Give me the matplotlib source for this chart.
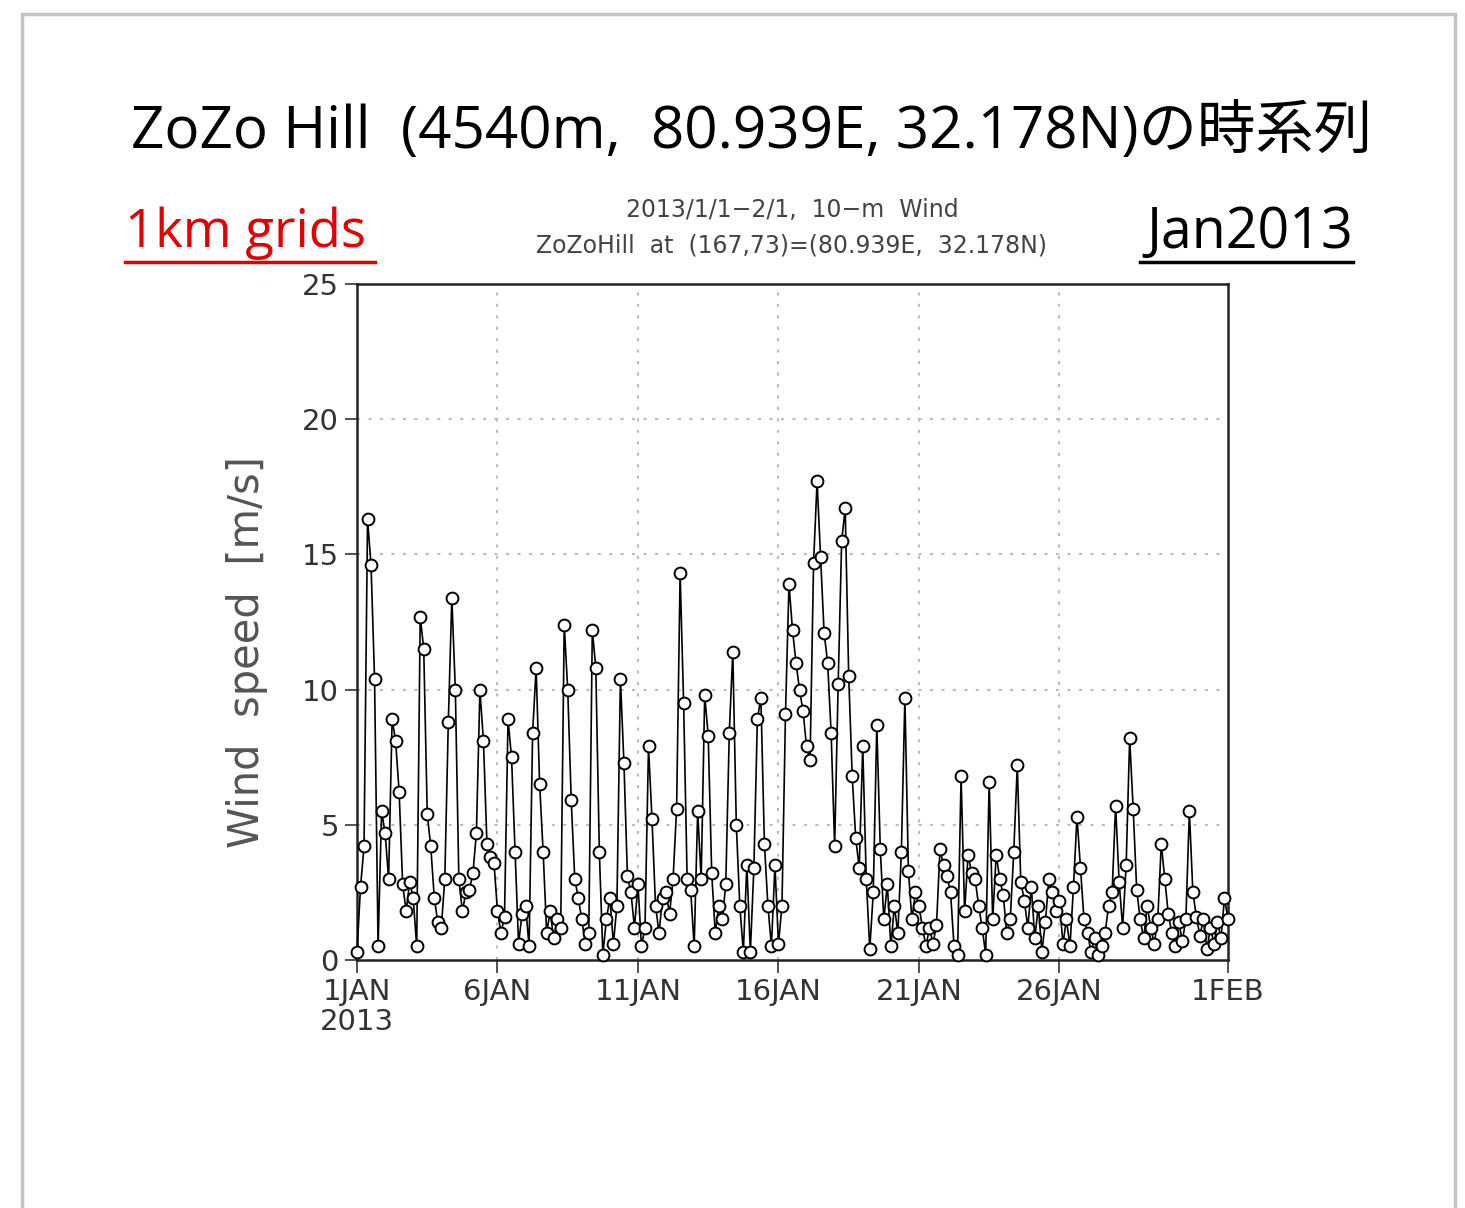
import matplotlib
matplotlib.use("Agg")
import matplotlib.pyplot as plt
from matplotlib.patches import Rectangle
import numpy as np

# 3-hourly 10-m wind speed (m/s), 2013-01-01 00UTC ... 2013-02-01 00UTC
day01 = [0.3, 2.7, 4.2, 16.3, 14.6, 10.4, 0.5, 5.5]
day02 = [4.7, 3.0, 8.9, 8.1, 6.2, 2.8, 1.8, 2.9]
day03 = [2.3, 0.5, 12.7, 11.5, 5.4, 4.2, 2.3, 1.4]
day04 = [1.2, 3.0, 8.8, 13.4, 10.0, 3.0, 1.8, 2.5]
day05 = [2.6, 3.2, 4.7, 10.0, 8.1, 4.3, 3.8, 3.6]
day06 = [1.8, 1.0, 1.6, 8.9, 7.5, 4.0, 0.6, 1.7]
day07 = [2.0, 0.5, 8.4, 10.8, 6.5, 4.0, 1.0, 1.8]
day08 = [0.8, 1.5, 1.2, 12.4, 10.0, 5.9, 3.0, 2.3]
day09 = [1.5, 0.6, 1.0, 12.2, 10.8, 4.0, 0.2, 1.5]
day10 = [2.3, 0.6, 2.0, 10.4, 7.3, 3.1, 2.5, 1.2]
day11 = [2.8, 0.5, 1.2, 7.9, 5.2, 2.0, 1.0, 2.3]
day12 = [2.5, 1.7, 3.0, 5.6, 14.3, 9.5, 3.0, 2.6]
day13 = [0.5, 5.5, 3.0, 9.8, 8.3, 3.2, 1.0, 2.0]
day14 = [1.5, 2.8, 8.4, 11.4, 5.0, 2.0, 0.3, 3.5]
day15 = [0.3, 3.4, 8.9, 9.7, 4.3, 2.0, 0.5, 3.5]
day16 = [0.6, 2.0, 9.1, 13.9, 12.2, 11.0, 10.0, 9.2]
day17 = [7.9, 7.4, 14.7, 17.7, 14.9, 12.1, 11.0, 8.4]
day18 = [4.2, 10.2, 15.5, 16.7, 10.5, 6.8, 4.5, 3.4]
day19 = [7.9, 3.0, 0.4, 2.5, 8.7, 4.1, 1.5, 2.8]
day20 = [0.5, 2.0, 1.0, 4.0, 9.7, 3.3, 1.5, 2.5]
day21 = [2.0, 1.2, 0.5, 1.2, 0.6, 1.3, 4.1, 3.5]
day22 = [3.1, 2.5, 0.5, 0.2, 6.8, 1.8, 3.9, 3.2]
day23 = [3.0, 2.0, 1.2, 0.2, 6.6, 1.5, 3.9, 3.0]
day24 = [2.4, 1.0, 1.5, 4.0, 7.2, 2.9, 2.2, 1.2]
day25 = [2.7, 0.8, 2.0, 0.3, 1.4, 3.0, 2.5, 1.8]
day26 = [2.2, 0.6, 1.5, 0.5, 2.7, 5.3, 3.4, 1.5]
day27 = [1.0, 0.3, 0.8, 0.2, 0.5, 1.0, 2.0, 2.5]
day28 = [5.7, 2.9, 1.2, 3.5, 8.2, 5.6, 2.6, 1.5]
day29 = [0.8, 2.0, 1.2, 0.6, 1.5, 4.3, 3.0, 1.7]
day30 = [1.0, 0.5, 1.4, 0.7, 1.5, 5.5, 2.5, 1.6]
day31 = [0.9, 1.5, 0.4, 1.2, 0.6, 1.4, 0.8, 2.3]
feb01 = [1.5]

speed = (day01 + day02 + day03 + day04 + day05 + day06 + day07 + day08 + day09 + day10 +
         day11 + day12 + day13 + day14 + day15 + day16 + day17 + day18 + day19 + day20 +
         day21 + day22 + day23 + day24 + day25 + day26 + day27 + day28 + day29 + day30 +
         day31 + feb01)
hours_step = 3
time_days = np.arange(len(speed)) * hours_step / 24.0

xtick_days = [0, 5, 10, 15, 20, 25, 31]
xtick_labels = ["1JAN\n2013", "6JAN", "11JAN", "16JAN", "21JAN", "26JAN", "1FEB"]
yticks = [0, 5, 10, 15, 20, 25]

fig = plt.figure(figsize=(14.65, 12.08), dpi=100)
fig.patch.set_facecolor("white")

# slide frame
fig.add_artist(Rectangle((22/1465, -0.05), (1455-22)/1465, 1.05 - 14/1208,
                         transform=fig.transFigure, fill=False,
                         edgecolor="#c4c4c4", linewidth=2.5))

ax = fig.add_axes([357/1465, 1-960/1208, (1228-357)/1465, (960-284)/1208])
ax.plot(time_days, speed, color="black", linewidth=1.2, marker="o",
        markersize=8.5, markerfacecolor="white", markeredgecolor="black",
        markeredgewidth=1.4, zorder=3, clip_on=False)
ax.set_xlim(0, 31)
ax.set_ylim(0, 25)
ax.set_xticks(xtick_days)
ax.set_xticklabels(xtick_labels, fontsize=21, color="#333333",
                   family="DejaVu Sans", linespacing=1.1)
ax.set_yticks(yticks)
ax.set_yticklabels([str(v) for v in yticks], fontsize=21, color="#333333",
                   family="DejaVu Sans")
ax.tick_params(axis="both", direction="out", length=9, width=1.2, color="#333333", pad=4)
for v in yticks[1:-1]:
    ax.axhline(v, color="#bdbdbd", linestyle=(0, (1.5, 4)), linewidth=1.5, zorder=1)
for d in xtick_days[1:-1]:
    ax.axvline(d, color="#bdbdbd", linestyle=(0, (1.5, 4)), linewidth=1.5, zorder=1)
for s in ax.spines.values():
    s.set_linestyle((0, (3, 1)))
    s.set_linewidth(1.8)
    s.set_color("#222222")

fig.text(247/1465, 1-652/1208, "Wind  speed  [m/s]", rotation=90, ha="center", va="center",
         fontsize=30, color="#555555", family="DejaVu Sans")

fig.text(0.5 + 0.013, 1-133/1208, "ZoZo Hill  (4540m,  80.939E, 32.178N)の時系列",
         ha="center", va="center", fontsize=42,
         family=["Open Sans", "Noto Sans CJK JP"], color="black")
fig.text(125/1465, 1-233/1208, "1km grids", ha="left", va="center", fontsize=38,
         family="Open Sans", color="#e00000")
fig.add_artist(plt.Line2D([125/1465, 375/1465], [1-262/1208, 1-262/1208],
                          transform=fig.transFigure, color="#e00000", linewidth=2.5))
fig.text(1353/1465, 1-233/1208, "Jan2013", ha="right", va="center", fontsize=40,
         family="Open Sans", color="black")
fig.add_artist(plt.Line2D([1140/1465, 1353/1465], [1-262/1208, 1-262/1208],
                          transform=fig.transFigure, color="black", linewidth=2.5))
fig.text(792/1465, 1-210/1208, "2013/1/1\u22122/1,  10\u2212m  Wind", ha="center", va="center",
         fontsize=17, color="#444444", family="DejaVu Sans")
fig.text(792/1465, 1-246/1208, "ZoZoHill  at  (167,73)=(80.939E,  32.178N)", ha="center",
         va="center", fontsize=17, color="#444444", family="DejaVu Sans")

fig.savefig("out.png", dpi=100, facecolor="white")
